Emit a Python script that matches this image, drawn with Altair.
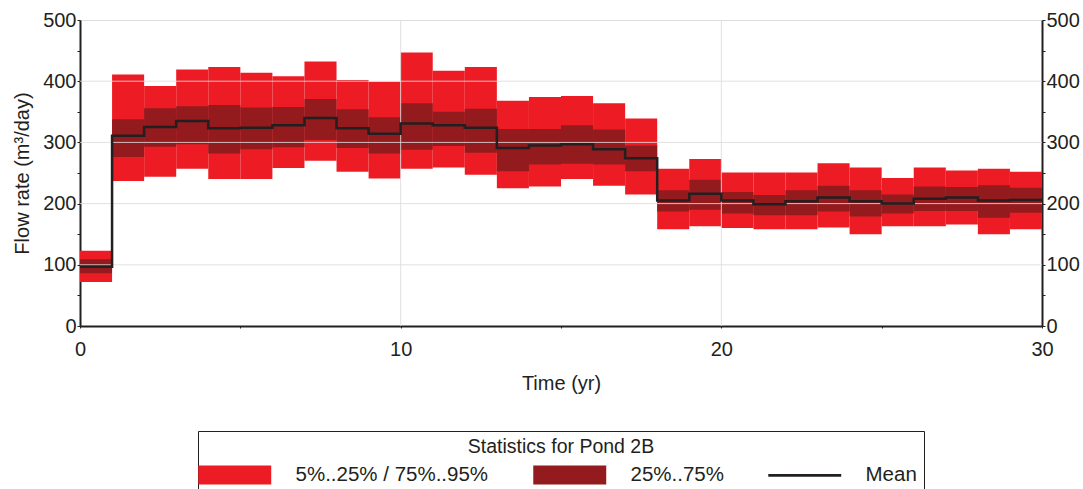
import altair as alt
import pandas as pd

# ---- data ----
years = list(range(30))
p95 = [123, 411, 392, 419, 423, 414, 408, 432, 402, 399,
       447, 417, 423, 368, 374, 376, 364, 339, 257, 273,
       251, 251, 251, 266, 259, 242, 259, 254, 257, 252]
p75 = [109, 338, 356, 359, 361, 357, 358, 371, 354, 341,
       364, 350, 355, 322, 322, 328, 321, 295, 222, 239,
       219, 214, 222, 229, 222, 215, 228, 227, 230, 226]
mean = [97, 311, 325, 335, 323, 324, 328, 340, 323, 314,
        331, 328, 324, 291, 295, 297, 289, 274, 205, 216,
        205, 199, 204, 210, 204, 200, 208, 210, 205, 206]
p25 = [86, 276, 293, 297, 282, 289, 292, 304, 291, 282,
       288, 294, 283, 253, 264, 265, 264, 253, 187, 190,
       184, 181, 181, 187, 179, 184, 188, 188, 177, 185]
p5 = [72, 237, 244, 257, 240, 240, 258, 270, 252, 241,
      257, 259, 247, 225, 228, 240, 229, 215, 158, 163,
      160, 158, 158, 161, 150, 163, 163, 166, 150, 158]

legend_labels = ["5%..25% / 75%..95%", "25%..75%", "Mean"]
legend_title = "Statistics for Pond 2B"
x_title = "Time (yr)"
y_title = "Flow rate (m³/day)"
grid_y = [100, 200, 300, 400]
grid_x = [10, 20]
x_ticks = [0, 5, 10, 15, 20, 25, 30]
y_ticks = list(range(0, 501, 50))

OUTER = "#ED1C24"
INNER = "#931A1D"
DARK = "#231F20"
FONT = "Liberation Sans"

df = pd.DataFrame({"start": years, "end": [y + 1 for y in years],
                   "p5": p5, "p25": p25, "p75": p75, "p95": p95})
mean_df = pd.DataFrame({"t": years + [30], "mean": mean + [mean[-1]]})
grid_y_df = pd.DataFrame({"v": grid_y})
grid_x_df = pd.DataFrame({"v": grid_x})
leg_df = pd.DataFrame({"series": legend_labels})

xs = alt.Scale(domain=[0, 30], nice=False, zero=False)
ys = alt.Scale(domain=[0, 500], nice=False)

common_axis = dict(domainColor=DARK, domainWidth=2, tickColor=DARK, tickWidth=1,
                   labelColor=DARK, titleColor=DARK, labelFontSize=20,
                   titleFontSize=20, titleFontWeight="normal", grid=False,
                   labelFont=FONT, titleFont=FONT)

x_axis = alt.Axis(values=x_ticks, labelExpr="datum.value % 10 == 0 ? datum.label : ''",
                  tickSize=2, labelPadding=11, titlePadding=14, labelFlush=False,
                  title=x_title, **common_axis)
left_axis = alt.Axis(values=y_ticks, labelExpr="datum.value % 100 == 0 ? datum.label : ''",
                     tickSize=3, labelPadding=1, titlePadding=10, title=y_title,
                     **common_axis)
right_axis = alt.Axis(values=y_ticks, labelExpr="datum.value % 100 == 0 ? datum.label : ''",
                      tickSize=3, labelPadding=1, orient="right", title="",
                      **common_axis)

outer = alt.Chart(df).mark_rect(color=OUTER).encode(
    x=alt.X("start:Q", scale=xs, axis=x_axis),
    x2="end:Q",
    y=alt.Y("p5:Q", scale=ys, axis=left_axis),
    y2="p95:Q",
)
inner = alt.Chart(df).mark_rect(color=INNER).encode(
    x=alt.X("start:Q", scale=xs, axis=x_axis),
    x2="end:Q",
    y=alt.Y("p25:Q", scale=ys, axis=None),
    y2="p75:Q",
)
grid_h = alt.Chart(grid_y_df).mark_rule(color="#dcdcdc", strokeWidth=1, opacity=0.85).encode(
    y=alt.Y("v:Q", scale=ys, axis=right_axis),
)
grid_v = alt.Chart(grid_x_df).mark_rule(color="#dcdcdc", strokeWidth=1, opacity=0.85).encode(
    x=alt.X("v:Q", scale=xs, axis=x_axis),
)
line = alt.Chart(mean_df).mark_line(interpolate="step-after", color=DARK, strokeWidth=2.5).encode(
    x=alt.X("t:Q", scale=xs, axis=x_axis),
    y=alt.Y("mean:Q", scale=ys, axis=None),
)

swatch = "M-3.84,-1L3.84,-1L3.84,1L-3.84,1Z"
bar = "M-3.84,-0.14L3.84,-0.14L3.84,0.14L-3.84,0.14Z"
leg = alt.Legend(title=legend_title, orient="none", legendX=118, legendY=411,
                 direction="horizontal", symbolSize=361, symbolStrokeWidth=1,
                 symbolStrokeColor=DARK, symbolOpacity=1, symbolOffset=19.5,
                 labelFontSize=20.5, titleFontSize=19.5, titleFontWeight="normal",
                 titleAnchor="middle", titlePadding=7, labelOffset=50.5,
                 columnPadding=42, padding=7,
                 strokeColor=DARK, labelColor=DARK, titleColor=DARK,
                 labelLimit=400, titleLimit=800, labelFont=FONT, titleFont=FONT)
legend_layer = alt.Chart(leg_df).mark_point(filled=True, opacity=0).encode(
    x=alt.value(-50), y=alt.value(-50),
    color=alt.Color("series:N", scale=alt.Scale(domain=legend_labels, range=[OUTER, INNER, DARK]),
                    sort=legend_labels, legend=leg),
    shape=alt.Shape("series:N", scale=alt.Scale(domain=legend_labels, range=[swatch, swatch, bar]),
                    sort=legend_labels, legend=leg),
)

chart = alt.layer(outer, inner, grid_h, grid_v, line, legend_layer).resolve_axis(
    y="independent"
).properties(
    width=962, height=306,
    autosize=alt.AutoSizeParams(type="none"),
    padding={"left": 80, "top": 20, "right": 41, "bottom": 163},
).configure_view(stroke=DARK, strokeWidth=2).configure(font=FONT)

chart.save("out.html", embed_options={"renderer": "svg", "actions": False})
